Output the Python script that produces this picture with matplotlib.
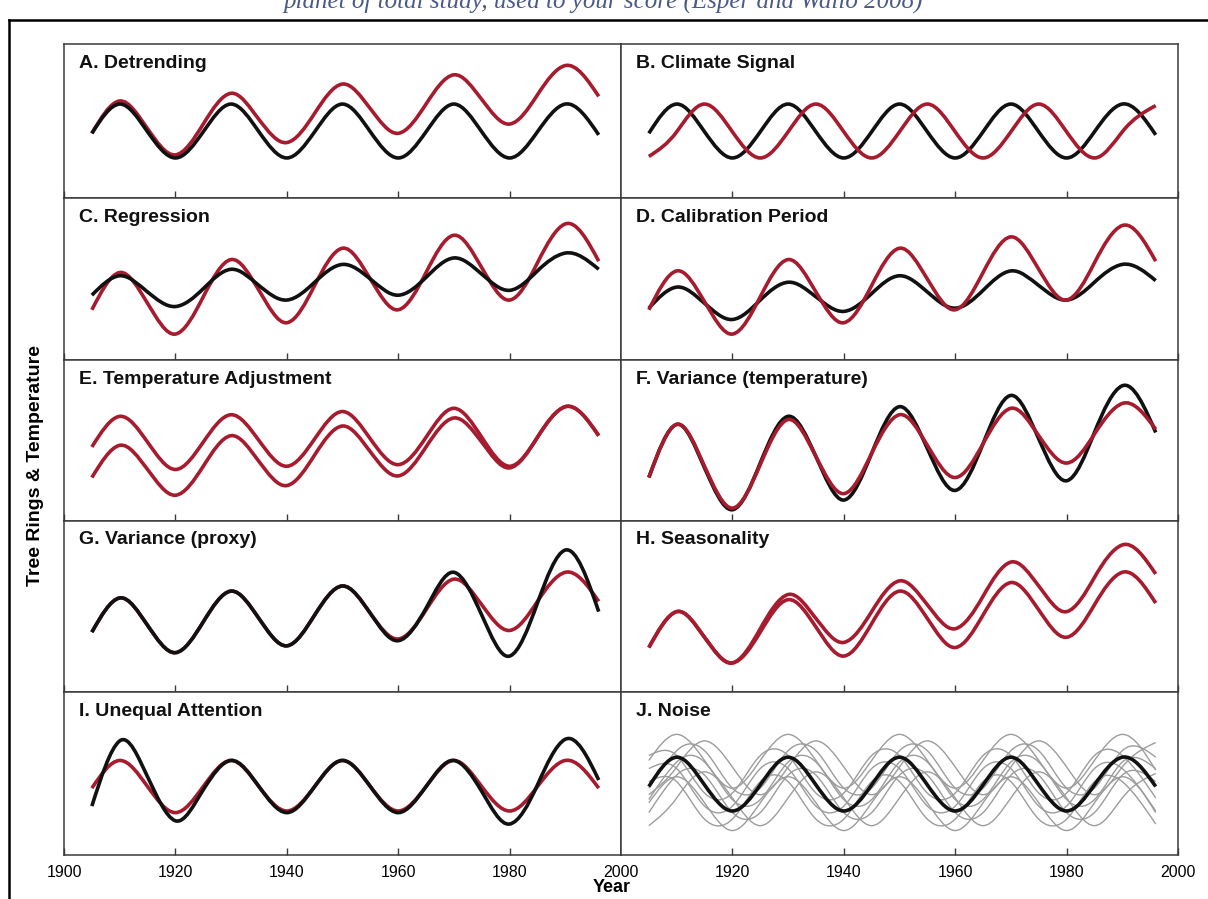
import numpy as np
import matplotlib
matplotlib.use("Agg")
import matplotlib.pyplot as plt
from matplotlib.path import Path
from matplotlib.patches import PathPatch
from matplotlib.lines import Line2D

plt.rcParams['font.family'] = ['Liberation Sans', 'DejaVu Sans']

# sample years (every 5 years plus the end of each curve)
YEARS = [1905, 1910, 1915, 1920, 1925, 1930, 1935, 1940, 1945, 1950,
         1955, 1960, 1965, 1970, 1975, 1980, 1985, 1990, 1996]

# values, in % of panel height (0 = bottom, 100 = top)
a_black = [42, 61, 43, 26, 43, 61, 43, 26, 43, 61, 43, 26, 43, 61, 43, 26, 43, 61, 41]
a_red   = [42, 63, 45, 28, 48, 68, 51, 36, 55, 74, 58, 42, 61, 80, 64, 48, 67, 86, 66]

b_black = [42, 61, 43, 26, 43, 61, 43, 26, 43, 61, 43, 26, 43, 61, 43, 26, 43, 61, 41]
b_red   = [27, 43, 61, 43, 26, 43, 61, 43, 26, 43, 61, 43, 26, 43, 61, 43, 26, 43, 60]

c_black = [40, 52, 42, 33, 44, 56, 46, 37, 48, 59, 50, 40, 51, 63, 53, 43, 55, 66, 56]
c_red   = [31, 54, 35, 16, 39, 62, 43, 23, 46, 69, 50, 31, 54, 77, 57, 37, 60, 84, 61]

d_black = [32, 45, 35, 25, 37, 48, 39, 30, 41, 52, 42, 32, 43, 55, 46, 37, 48, 59, 49]
d_red   = [31, 55, 36, 16, 39, 62, 42, 23, 46, 69, 50, 31, 54, 76, 56, 37, 60, 83, 61]

e_upper = [46, 65, 49, 32, 49, 66, 50, 34, 51, 68, 51, 35, 52, 70, 52, 34, 52, 71, 53]
e_lower = [27, 47, 32, 16, 34, 53, 37, 22, 41, 59, 43, 28, 46, 64, 49, 33, 52, 71, 53]

f_red   = [27, 60, 34, 8, 35, 63, 40, 17, 42, 66, 47, 27, 48, 70, 53, 36, 54, 73, 57]
f_black = [27, 60, 33, 7, 36, 65, 40, 13, 42, 71, 45, 19, 48, 78, 51, 25, 55, 84, 55]

g_red   = [35, 55, 39, 23, 41, 59, 43, 27, 45, 62, 46, 31, 48, 66, 51, 36, 53, 70, 53]
g_black = [35, 55, 39, 23, 41, 59, 43, 27, 45, 62, 46, 30, 49, 70, 45, 21, 52, 83, 47]

h_upper = [26, 47, 32, 17, 37, 57, 43, 29, 47, 65, 51, 37, 56, 76, 62, 47, 67, 86, 69]
h_lower = [26, 47, 32, 17, 35, 54, 38, 21, 40, 59, 43, 26, 45, 64, 48, 32, 51, 70, 52]

i_red   = [41, 58, 42, 26, 42, 58, 42, 27, 42, 58, 42, 27, 42, 58, 42, 27, 42, 58, 41]
i_black = [30, 70, 48, 21, 40, 58, 42, 26, 42, 58, 42, 26, 42, 58, 39, 19, 43, 71, 46]

j_black = [42, 60, 43, 27, 43, 60, 43, 27, 43, 60, 43, 27, 43, 60, 43, 27, 43, 60, 42]
j_grey1 = [58, 74, 58, 41, 58, 74, 58, 41, 58, 74, 58, 41, 58, 74, 58, 41, 58, 74, 52]
j_grey2 = [41, 64, 64, 41, 41, 64, 64, 41, 41, 64, 64, 41, 41, 64, 64, 41, 41, 64, 60]
j_grey3 = [61, 61, 38, 38, 61, 61, 38, 38, 61, 61, 38, 38, 61, 61, 38, 38, 61, 61, 35]
j_grey4 = [37, 54, 70, 54, 37, 54, 70, 54, 37, 54, 70, 54, 37, 54, 70, 54, 37, 54, 69]
j_grey5 = [26, 49, 49, 26, 26, 49, 49, 26, 26, 49, 49, 26, 26, 49, 49, 26, 26, 49, 45]
j_grey6 = [32, 48, 32, 15, 32, 48, 32, 15, 32, 48, 32, 15, 32, 48, 32, 15, 32, 48, 26]
j_grey7 = [45, 45, 22, 22, 45, 45, 22, 22, 45, 45, 22, 22, 45, 45, 22, 22, 45, 45, 19]
j_grey8 = [18, 35, 51, 35, 18, 35, 51, 35, 18, 35, 51, 35, 18, 35, 51, 35, 18, 35, 50]
j_grey9 = [34, 57, 57, 34, 34, 57, 57, 34, 34, 57, 57, 34, 34, 57, 57, 34, 34, 57, 53]
j_grey10 = [53, 53, 30, 30, 53, 53, 30, 30, 53, 53, 30, 30, 53, 53, 30, 30, 53, 53, 27]

titles = ["A. Detrending", "B. Climate Signal", "C. Regression", "D. Calibration Period",
          "E. Temperature Adjustment", "F. Variance (temperature)", "G. Variance (proxy)",
          "H. Seasonality", "I. Unequal Attention", "J. Noise"]

tick_years = [1900, 1920, 1940, 1960, 1980, 2000]

RED = '#A61C2E'
BLACK = '#111111'
GREY = '#9C9C9C'
SPINE = '#3A3A3A'

j_greys = [j_grey1, j_grey2, j_grey3, j_grey4, j_grey5,
           j_grey6, j_grey7, j_grey8, j_grey9, j_grey10]

panel_lines = [
    [(a_red, RED), (a_black, BLACK)],
    [(b_black, BLACK), (b_red, RED)],
    [(c_red, RED), (c_black, BLACK)],
    [(d_black, BLACK), (d_red, RED)],
    [(e_upper, RED), (e_lower, RED)],
    [(f_black, BLACK), (f_red, RED)],
    [(g_red, RED), (g_black, BLACK)],
    [(h_upper, RED), (h_lower, RED)],
    [(i_red, RED), (i_black, BLACK)],
    [(g, GREY) for g in j_greys] + [(j_black, BLACK)],
]


def smooth_line(ax, xs, ys, color, lw):
    # hermite path through the read points; points sit a quarter cycle apart,
    # so the central difference is scaled up a bit to get a wave-like slope
    xs = np.asarray(xs, float)
    ys = np.asarray(ys, float)
    m = np.gradient(ys, xs) * 1.45
    # quadratic end condition so the ends do not kink
    h0, h1 = xs[1] - xs[0], xs[-1] - xs[-2]
    m[0] = (3 * (ys[1] - ys[0]) / h0 - m[1]) / 2
    m[-1] = (3 * (ys[-1] - ys[-2]) / h1 - m[-2]) / 2
    verts = [(xs[0], ys[0])]
    codes = [Path.MOVETO]
    for k in range(len(xs) - 1):
        h = xs[k + 1] - xs[k]
        verts += [(xs[k] + h / 3, ys[k] + m[k] * h / 3),
                  (xs[k + 1] - h / 3, ys[k + 1] - m[k + 1] * h / 3),
                  (xs[k + 1], ys[k + 1])]
        codes += [Path.CURVE4] * 3
    ax.add_patch(PathPatch(Path(verts, codes), fill=False, edgecolor=color,
                           lw=lw, capstyle='butt', joinstyle='round'))


W, H = 1208, 899
fig = plt.figure(figsize=(W / 100, H / 100), dpi=100)

col_x = [64, 621]
col_w = 557
row_y = [44, 198, 360, 521, 692, 855]

for idx, (title, lines) in enumerate(zip(titles, panel_lines)):
    r, c = divmod(idx, 2)
    top, bot = row_y[r], row_y[r + 1]
    ax = fig.add_axes([col_x[c] / W, 1 - bot / H, col_w / W, (bot - top) / H])
    ax.set_xlim(1900, 2000)
    ax.set_ylim(0, 100)
    for vals, color in lines:
        lw = 1.0 if color == GREY else 2.6
        smooth_line(ax, YEARS, vals, color, lw)
    ax.text(15 / col_w, 1 - 19 / (bot - top), title, transform=ax.transAxes,
            fontsize=14, fontweight='bold', va='center', ha='left', color='#111111')
    for s in ax.spines.values():
        s.set_color(SPINE)
        s.set_linewidth(1.1)
    ax.set_yticks([])
    if c == 0:
        ax.set_xticks(tick_years)
    else:
        ax.set_xticks(tick_years[1:])
    ax.tick_params(axis='x', direction='in', length=5, width=1, color=SPINE,
                   labelsize=11.5, pad=7, labelbottom=(r == 4))

fig.text(612 / W, 1 - 887 / H, "Year", fontsize=13, fontweight='bold', ha='center', va='center')
fig.text(36 / W, 1 - 465 / H, "Tree Rings & Temperature", fontsize=14, fontweight='bold',
         rotation=90, ha='center', va='center')

# outer frame of the page
fig.add_artist(Line2D([9 / W, 9 / W], [0, 1 - 20 / H], color='black', lw=1.8))
fig.add_artist(Line2D([9 / W, 1], [1 - 20 / H, 1 - 20 / H], color='black', lw=1.8))

# caption line cut by the top edge, as in the source page
fig.text(603 / W, 1 - 8 / H, "planet of total study, used to your score (Esper and Wallo 2008)",
         fontsize=18, style='italic', family='Liberation Serif', color='#4A5A85',
         ha='center', va='baseline')

fig.savefig("out.png", dpi=100)
